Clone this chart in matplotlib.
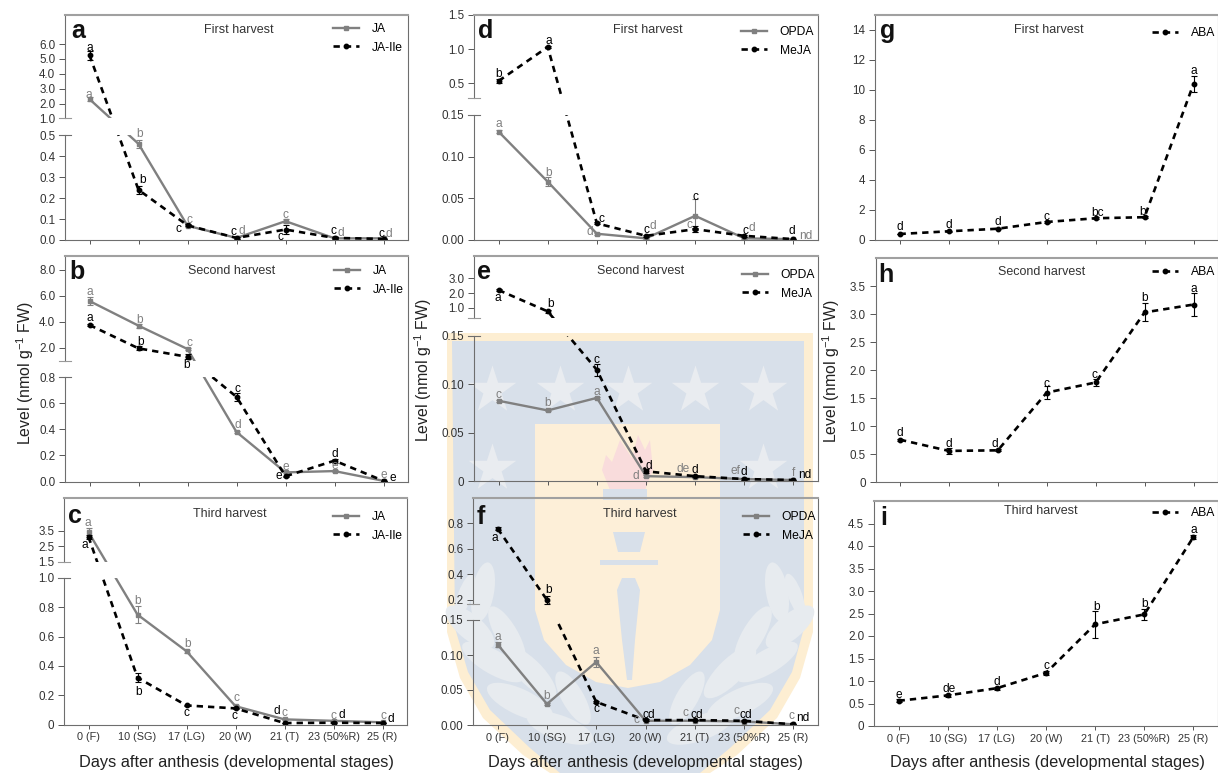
import numpy as np
import matplotlib
matplotlib.use("Agg")
import matplotlib.pyplot as plt
from matplotlib.patches import Polygon, Ellipse, Rectangle

plt.rcParams['font.family'] = ['Liberation Sans', 'DejaVu Sans']
plt.rcParams['mathtext.default'] = 'regular'

W = 1218
H = 773

stages = ['0 (F)', '10 (SG)', '17 (LG)', '20 (W)', '21 (T)', '23 (50%R)', '25 (R)']

# panel a
a_ja = [2.3, 0.46, 0.068, 0.01, 0.09, 0.008, 0.008]
a_ja_err = [0.15, 0.02, 0.005, 0.003, 0.01, 0.002, 0.002]
a_ja_let = ['a', 'b', 'c', 'd', 'c', 'd', 'd']
a_ile = [5.25, 0.24, 0.07, 0.01, 0.05, 0.01, 0.005]
a_ile_err = [0.3, 0.02, 0.005, 0.003, 0.02, 0.003, 0.002]
a_ile_let = ['a', 'b', 'c', 'c', 'c', 'c', 'c']
# panel b
b_ja = [5.6, 3.7, 1.9, 0.38, 0.07, 0.08, 0.005]
b_ja_err = [0.3, 0.15, 0.1, 0.01, 0.005, 0.005, 0.001]
b_ja_let = ['a', 'b', 'c', 'd', 'e', 'e', 'e']
b_ile = [3.75, 1.95, 1.3, 0.65, 0.04, 0.16, 0.005]
b_ile_err = [0.1, 0.15, 0.2, 0.03, 0.005, 0.015, 0.001]
b_ile_let = ['a', 'b', 'b', 'c', 'e', 'd', 'e']
# panel c
c_ja = [3.4, 0.75, 0.50, 0.125, 0.035, 0.025, 0.015]
c_ja_err = [0.3, 0.06, 0.01, 0.01, 0.005, 0.003, 0.002]
c_ja_let = ['a', 'b', 'b', 'c', 'c', 'c', 'c']
c_ile = [3.1, 0.32, 0.13, 0.11, 0.01, 0.012, 0.01]
c_ile_err = [0.15, 0.03, 0.005, 0.005, 0.003, 0.002, 0.002]
c_ile_let = ['a', 'b', 'c', 'c', 'd', 'd', 'd']
# panel d
d_opda = [0.13, 0.07, 0.0075, 0.002, 0.029, 0.002, 0.001]
d_opda_err = [0.002, 0.005, 0.001, 0.0005, 0.02, 0.001, 0.0005]
d_opda_let = ['a', 'b', 'd', 'd', 'c', 'd', 'nd']
d_meja = [0.53, 1.03, 0.02, 0.005, 0.013, 0.005, 0.001]
d_meja_err = [0.03, 0.02, 0.001, 0.001, 0.004, 0.001, 0.0005]
d_meja_let = ['b', 'a', 'c', 'c', 'c', 'c', 'd']
# panel e
e_opda = [0.083, 0.073, 0.086, 0.005, 0.004, 0.002, 0.001]
e_opda_err = [0.001, 0.001, 0.001, 0.001, 0.0005, 0.0005, 0.0002]
e_opda_let = ['c', 'b', 'a', 'd', 'de', 'ef', 'f']
e_meja = [2.2, 0.75, 0.115, 0.01, 0.005, 0.002, 0.001]
e_meja_err = [0.05, 0.1, 0.006, 0.002, 0.001, 0.001, 0.0005]
e_meja_let = ['a', 'b', 'c', 'd', 'd', 'd', 'nd']
# panel f
f_opda = [0.115, 0.03, 0.09, 0.006, 0.006, 0.005, 0.001]
f_opda_err = [0.004, 0.001, 0.007, 0.0005, 0.0005, 0.0005, 0.0002]
f_opda_let = ['a', 'b', 'a', 'c', 'c', 'c', 'c']
f_meja = [0.76, 0.2, 0.033, 0.007, 0.007, 0.006, 0.001]
f_meja_err = [0.01, 0.03, 0.002, 0.001, 0.0005, 0.0005, 0.0002]
f_meja_let = ['a', 'b', 'c', 'cd', 'cd', 'cd', 'nd']
# panels g h i
g_aba = [0.4, 0.58, 0.75, 1.2, 1.45, 1.52, 10.4]
g_aba_err = [0.03, 0.04, 0.04, 0.06, 0.08, 0.08, 0.55]
g_aba_let = ['d', 'd', 'd', 'c', 'bc', 'b', 'a']
h_aba = [0.76, 0.56, 0.57, 1.6, 1.78, 3.03, 3.17]
h_aba_err = [0.02, 0.05, 0.02, 0.11, 0.06, 0.16, 0.2]
h_aba_let = ['d', 'd', 'd', 'c', 'c', 'b', 'a']
i_aba = [0.56, 0.68, 0.84, 1.18, 2.26, 2.48, 4.2]
i_aba_err = [0.03, 0.04, 0.03, 0.04, 0.3, 0.13, 0.04]
i_aba_let = ['e', 'de', 'd', 'c', 'b', 'b', 'a']

# where each letter sits from its point, pixels (right, up)
a_ja_off = [(-1, 4), (1, 10), (2, 6), (5, 7), (0, 6), (6, 5), (5, 4)]
a_ile_off = [(0, 7), (4, 10), (-9, -4), (-3, 6), (-5, -7), (-1, 7), (-2, 5)]
b_ja_off = [(0, 9), (1, 6), (2, 6), (1, 7), (0, 5), (0, 5), (0, 6)]
b_ile_off = [(0, 7), (2, 6), (-1, -8), (1, 8), (-7, 0), (0, 7), (9, 3)]
c_ja_off = [(-1, 9), (0, 14), (1, 7), (1, 8), (0, 6), (0, 5), (1, 6)]
c_ile_off = [(-4, -8), (1, -14), (0, -8), (-1, -8), (-8, 12), (8, 8), (8, 4)]
d_opda_off = [(0, 8), (1, 9), (-7, 2), (7, 12), (-6, -9), (8, 10), (12, 3)]
d_meja_off = [(0, 7), (1, 6), (5, 4), (0, 6), (0, 32), (1, 5), (-2, 8)]
e_opda_off = [(0, 6), (0, 7), (0, 6), (-10, 0), (-12, 8), (-9, 8), (0, 7)]
e_meja_off = [(-1, -8), (3, 7), (0, 10), (3, 5), (0, 6), (0, 7), (11, 5)]
f_opda_off = [(0, 8), (0, 8), (0, 11), (-9, 1), (-9, 8), (-8, 10), (-2, 8)]
f_meja_off = [(-3, -9), (2, 10), (0, -7), (3, 5), (2, 5), (2, 6), (9, 6)]
g_aba_off = [(0, 7), (0, 6), (0, 7), (0, 5), (2, 5), (-2, 5), (0, 13)]
h_aba_off = [(0, 7), (0, 7), (-3, 6), (0, 9), (-1, 7), (0, 14), (0, 16)]
i_aba_off = [(0, 6), (1, 6), (0, 6), (0, 7), (1, 17), (0, 10), (0, 7)]

GREY = '#808080'
DARK = '#333333'


def px(x, y):
    return x / W, 1 - y / H


def put(x, y, s, **kw):
    fx, fy = px(x, y)
    return fig.text(fx, fy, s, **kw)


fig = plt.figure(figsize=(W / 100, H / 100), dpi=100, facecolor='white')

# watermark behind the panels
bg = fig.add_axes([0, 0, 1, 1], zorder=-1)
bg.set_xlim(0, W)
bg.set_ylim(H, 0)
bg.axis('off')
bg.add_patch(Polygon([(447, 333), (813, 333), (813, 632), (800, 678), (777, 718), (737, 755), (710, 773),
                      (550, 773), (523, 755), (483, 718), (460, 678), (447, 632)], fc='#fdeed2', ec='none'))
bg.add_patch(Polygon([(452, 341), (804, 341), (804, 628), (792, 672), (770, 710), (730, 748), (700, 773),
                      (560, 773), (530, 748), (490, 710), (468, 672), (455, 628)], fc='#d8e0ea', ec='none'))
bg.scatter([492, 560, 628, 695, 763, 492, 763], [390, 390, 390, 390, 390, 468, 468],
           marker='*', s=1300, c='#e9ecf0', linewidths=0)
for sx in (-1, 1):
    for lx, ly, lw_, lh, ang in [(147, 592, 22, 60, 10), (165, 595, 14, 45, 20), (160, 627, 25, 60, -50),
                                 (123, 635, 22, 65, -30), (137, 662, 24, 70, -60), (100, 672, 25, 70, -45),
                                 (110, 702, 26, 72, -65), (57, 698, 22, 60, -30), (70, 728, 25, 70, -70)]:
        bg.add_patch(Ellipse((630 + sx * lx, ly), lw_, lh, angle=-sx * ang, fc='#e7ebef', ec='none'))
bg.add_patch(Polygon([(535, 424), (720, 424), (720, 610), (712, 640), (690, 665), (660, 682), (628, 688),
                      (596, 682), (566, 665), (544, 640), (535, 610)], fc='#fdefd8', ec='none'))
bg.add_patch(Polygon([(602, 470), (606, 455), (612, 462), (620, 440), (632, 458), (638, 435), (645, 450),
                      (650, 440), (653, 470), (645, 490), (610, 490)], fc='#f9dcdc', ec='none'))
bg.add_patch(Rectangle((603, 489), 44, 11, fc='#d8e0ea', ec='none'))
bg.add_patch(Polygon([(613, 532), (645, 532), (640, 552), (618, 552)], fc='#d8e0ea', ec='none'))
bg.add_patch(Rectangle((600, 560), 58, 5, fc='#d8e0ea', ec='none'))
bg.add_patch(Polygon([(617, 590), (622, 578), (635, 578), (640, 590), (635, 640), (632, 680), (627, 680),
                      (622, 640)], fc='#d8e0ea', ec='none'))


def make_axes(box, ticks, labels, top, brk=None):
    # box is left, top, right, bottom in pixels; brk is lo_top, lo_px, up_bot, up_px
    left, ptop, right, pbot = box
    ax = fig.add_axes([left / W, 1 - pbot / H, (right - left) / W, (pbot - ptop) / H])
    ax.set_facecolor('none')
    ax.set_xlim(-0.5, 6.5)
    if brk is not None:
        lo_top, lo_y, up_bot, up_y = brk
        vals = [0, lo_top, up_bot, top]
        pos = [0, pbot - lo_y, pbot - up_y, pbot - ptop]
        ax.set_yscale('function', functions=(lambda v: np.interp(v, vals, pos),
                                             lambda p: np.interp(p, pos, vals)))
    ax.set_ylim(0, top)
    ax.set_yticks(ticks)
    ax.set_yticklabels(labels)
    ax.minorticks_off()
    ax.set_xticks(range(7))
    ax.tick_params(axis='y', length=4, width=0.7, color='#555555', labelsize=8.4, labelcolor=DARK, pad=3)
    ax.tick_params(axis='x', length=3, width=0.7, color='#555555', labelsize=7.8, labelcolor=DARK, pad=2.6)
    for s in ('left', 'right', 'bottom'):
        ax.spines[s].set_color('#6e6e6e')
        ax.spines[s].set_linewidth(0.8)
    ax.spines['top'].set_color('#a0a0a0')
    ax.spines['top'].set_linewidth(1.5)
    if brk is not None:
        lo_top, lo_y, up_bot, up_y = brk
        frac = (pbot - up_y) / (pbot - ptop)
        ax.spines['left'].set_bounds(0, lo_top)
        ax.plot([0, 0], [frac, 1], transform=ax.transAxes, color='#6e6e6e', lw=0.8, clip_on=False)
        yt = ax.get_yaxis_transform()
        span = 6 / (right - left)
        ax.plot([-span, span], [lo_top, lo_top], transform=yt, color='#6e6e6e', lw=0.8, clip_on=False)
        ax.plot([-span, span], [up_bot, up_bot], transform=yt, color='#999999', lw=0.8, clip_on=False)
    return ax


def draw(ax, box, brk, vals, errs, lets, offs, name, dashed):
    if dashed:
        style = dict(color='black', lw=1.9, ls=(0, (2.4, 1.9)), marker='o', ms=3.2)
        tcol = 'black'
    else:
        style = dict(color=GREY, lw=1.7, ls='-', marker='s', ms=3.4)
        tcol = GREY
    ax.errorbar(range(7), vals, yerr=errs, fmt='none', ecolor=tcol, elinewidth=0.8, capsize=2, capthick=0.8)
    if brk is None:
        ax.plot(range(7), vals, label=name, **style)
    else:
        # the line runs on across the break but is hidden inside it
        left, ptop, right, pbot = box
        lo_y, up_y = brk[1], brk[3]
        low, = ax.plot(range(7), vals, label=name, **style)
        low.set_clip_path(Rectangle((0, 0), 1, (pbot - lo_y) / (pbot - ptop), transform=ax.transAxes))
        upp, = ax.plot(range(7), vals, **style)
        upp.set_clip_path(Rectangle((0, (pbot - up_y) / (pbot - ptop)), 1, (up_y - ptop) / (pbot - ptop),
                                    transform=ax.transAxes))
    for i in range(7):
        ax.annotate(lets[i], (i, vals[i]), xytext=offs[i], textcoords='offset pixels', ha='center', va='center',
                    fontsize=8.6, color=tcol, annotation_clip=False)


def add_legend(ax, box, x, y):
    left, ptop, right, pbot = box
    ax.legend(loc='upper left', bbox_to_anchor=((x - left) / (right - left), (pbot - y) / (pbot - ptop)),
              frameon=False, fontsize=8.7, numpoints=1, handlelength=2.15, handletextpad=1.05,
              labelspacing=0.55, borderpad=0, borderaxespad=0)


# a
box = (65, 15, 408, 240)
brk = (0.5, 135.5, 1.0, 118.5)
ax = make_axes(box, [0, 0.1, 0.2, 0.3, 0.4, 0.5, 1, 2, 3, 4, 5, 6],
               ['0.0', '0.1', '0.2', '0.3', '0.4', '0.5', '1.0', '2.0', '3.0', '4.0', '5.0', '6.0'], 7.95, brk)
draw(ax, box, brk, a_ja, a_ja_err, a_ja_let, a_ja_off, 'JA', False)
draw(ax, box, brk, a_ile, a_ile_err, a_ile_let, a_ile_off, 'JA-Ile', True)
add_legend(ax, box, 333, 23)
ax.set_xticklabels([])
put(239, 30, 'First harvest', ha='center', va='center', fontsize=9, color=DARK)
put(71, 38, 'a', fontsize=18, fontweight='bold', color='#111111')

# b
box = (65, 256, 408, 481.5)
brk = (0.8, 377.3, 1.0, 360.7)
ax = make_axes(box, [0, 0.2, 0.4, 0.6, 0.8, 2, 4, 6, 8],
               ['0.0', '0.2', '0.4', '0.6', '0.8', '2.0', '4.0', '6.0', '8.0'], 9.07, brk)
draw(ax, box, brk, b_ja, b_ja_err, b_ja_let, b_ja_off, 'JA', False)
draw(ax, box, brk, b_ile, b_ile_err, b_ile_let, b_ile_off, 'JA-Ile', True)
add_legend(ax, box, 334, 265)
ax.set_xticklabels([])
put(232, 271, 'Second harvest', ha='center', va='center', fontsize=9, color=DARK)
put(69, 279, 'b', fontsize=18, fontweight='bold', color='#111111')

# c
box = (64, 498, 407, 724.5)
brk = (1.0, 578, 1.5, 561.7)
ax = make_axes(box, [0, 0.2, 0.4, 0.6, 0.8, 1.0, 1.5, 2.5, 3.5],
               ['0', '0.2', '0.4', '0.6', '0.8', '1.0', '1.5', '2.5', '3.5'], 5.6, brk)
draw(ax, box, brk, c_ja, c_ja_err, c_ja_let, c_ja_off, 'JA', False)
draw(ax, box, brk, c_ile, c_ile_err, c_ile_let, c_ile_off, 'JA-Ile', True)
add_legend(ax, box, 333, 511)
ax.set_xticklabels(stages)
put(230, 514, 'Third harvest', ha='center', va='center', fontsize=9, color=DARK)
put(68, 523, 'c', fontsize=18, fontweight='bold', color='#111111')

# d
box = (474, 15, 818, 240)
brk = (0.15, 115, 0.28, 98)
ax = make_axes(box, [0, 0.05, 0.10, 0.15, 0.5, 1.0, 1.5],
               ['0.00', '0.05', '0.10', '0.15', '0.5', '1.0', '1.5'], 1.5, brk)
draw(ax, box, brk, d_opda, d_opda_err, d_opda_let, d_opda_off, 'OPDA', False)
draw(ax, box, brk, d_meja, d_meja_err, d_meja_let, d_meja_off, 'MeJA', True)
add_legend(ax, box, 741, 26)
ax.set_xticklabels([])
put(648, 30, 'First harvest', ha='center', va='center', fontsize=9, color=DARK)
put(478, 38, 'd', fontsize=18, fontweight='bold', color='#111111')

# e
box = (474, 256, 818, 481)
brk = (0.15, 336, 0.28, 318.3)
ax = make_axes(box, [0, 0.05, 0.10, 0.15, 1, 2, 3],
               ['0', '0.05', '0.10', '0.15', '1.0', '2.0', '3.0'], 4.52, brk)
draw(ax, box, brk, e_opda, e_opda_err, e_opda_let, e_opda_off, 'OPDA', False)
draw(ax, box, brk, e_meja, e_meja_err, e_meja_let, e_meja_off, 'MeJA', True)
add_legend(ax, box, 742, 269)
ax.set_xticklabels([])
put(641, 271, 'Second harvest', ha='center', va='center', fontsize=9, color=DARK)
put(477, 279, 'e', fontsize=18, fontweight='bold', color='#111111')

# f
box = (473, 498, 818, 725)
brk = (0.15, 620, 0.17, 603.7)
ax = make_axes(box, [0, 0.05, 0.10, 0.15, 0.2, 0.4, 0.6, 0.8],
               ['0.00', '0.05', '0.10', '0.15', '0.2', '0.4', '0.6', '0.8'], 1.0, brk)
draw(ax, box, brk, f_opda, f_opda_err, f_opda_let, f_opda_off, 'OPDA', False)
draw(ax, box, brk, f_meja, f_meja_err, f_meja_let, f_meja_off, 'MeJA', True)
add_legend(ax, box, 743, 511)
ax.set_xticklabels(stages)
put(640, 514, 'Third harvest', ha='center', va='center', fontsize=9, color=DARK)
put(477, 524, 'f', fontsize=18, fontweight='bold', color='#111111')

# g
box = (875, 15, 1218, 240)
ax = make_axes(box, [0, 2, 4, 6, 8, 10, 12, 14], ['0', '2', '4', '6', '8', '10', '12', '14'], 15)
draw(ax, box, None, g_aba, g_aba_err, g_aba_let, g_aba_off, 'ABA', True)
add_legend(ax, box, 1152, 27)
ax.set_xticklabels([])
put(1049, 30, 'First harvest', ha='center', va='center', fontsize=9, color=DARK)
put(880, 38, 'g', fontsize=18, fontweight='bold', color='#111111')

# h
box = (875.5, 258, 1218, 482.3)
ax = make_axes(box, [0, 0.5, 1, 1.5, 2, 2.5, 3, 3.5], ['0', '0.5', '1.0', '1.5', '2.0', '2.5', '3.0', '3.5'], 4.0)
draw(ax, box, None, h_aba, h_aba_err, h_aba_let, h_aba_off, 'ABA', True)
add_legend(ax, box, 1152, 266)
ax.set_xticklabels([])
put(1042, 272, 'Second harvest', ha='center', va='center', fontsize=9, color=DARK)
put(878, 282, 'h', fontsize=18, fontweight='bold', color='#111111')

# i
box = (874, 501, 1218, 726)
ax = make_axes(box, [0, 0.5, 1, 1.5, 2, 2.5, 3, 3.5, 4, 4.5],
               ['0', '0.5', '1.0', '1.5', '2.0', '2.5', '3.0', '3.5', '4.0', '4.5'], 5.0)
draw(ax, box, None, i_aba, i_aba_err, i_aba_let, i_aba_off, 'ABA', True)
add_legend(ax, box, 1152, 507)
ax.set_xticklabels(stages)
put(1041, 511, 'Third harvest', ha='center', va='center', fontsize=9, color=DARK)
put(880, 525, 'i', fontsize=18, fontweight='bold', color='#111111')

# shared axis titles
for x, y in [(25, 373), (423, 370), (831, 371)]:
    put(x, y, 'Level (nmol g$^{-1}$ FW)', rotation=90, ha='center', va='center', fontsize=11.4, color='#222222')
for x, y in [(236, 762), (645, 762), (1047, 763)]:
    put(x, y, 'Days after anthesis (developmental stages)', ha='center', va='center', fontsize=11.8, color='#222222')

fig.savefig('out.png', dpi=100)
